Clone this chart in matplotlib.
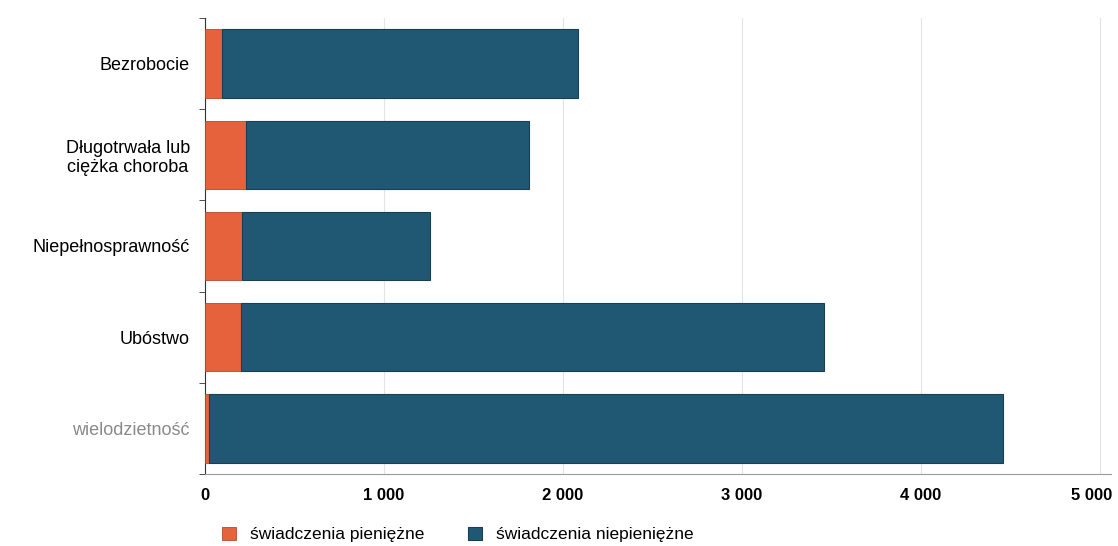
import matplotlib.pyplot as plt
import matplotlib.transforms as mtransforms
import numpy as np

categories = ["Bezrobocie", "Długotrwała lub\nciężka choroba", "Niepełnosprawność", "Ubóstwo", "wielodzietność"]
pieniezne = [95, 230, 207, 200, 20]
razem = [2085, 1810, 1257, 3458, 4458]
niepieniezne = [t - p for t, p in zip(razem, pieniezne)]
xticks = [0, 1000, 2000, 3000, 4000, 5000]
xtick_labels = ["0", "1 000", "2 000", "3 000", "4 000", "5 000"]

plt.rcParams['font.family'] = ['Liberation Sans', 'DejaVu Sans']

fig = plt.figure(figsize=(11.18, 5.46), dpi=100)
ax = fig.add_axes([0.1834, 0.132, 0.8100, 0.835])

y = np.arange(len(categories))
orange = "#e5623d"
blue = "#205874"

ax.barh(y, pieniezne, height=0.75, color=orange, edgecolor="#b24a2c", linewidth=0.6,
        label="świadczenia pieniężne", zorder=3)
ax.barh(y, niepieniezne, left=pieniezne, height=0.75, color=blue, edgecolor="#1b3f52",
        linewidth=0.8, label="świadczenia niepieniężne", zorder=3)

ax.set_ylim(4.5, -0.5)
ax.set_xlim(0, 5060)
ax.set_yticks(y)
ax.set_yticklabels(categories, fontsize=13, ha="right")
for lbl in ax.get_yticklabels():
    lbl.set_multialignment("center")
ax.get_yticklabels()[-1].set_color("#8a8a8a")
ax.tick_params(axis="y", length=0, pad=11)
ax.set_yticks(np.arange(-0.5, 5, 1), minor=True)
ax.tick_params(axis="y", which="minor", length=4, color="#333333")

ax.set_xticks(xticks)
ax.set_xticklabels(xtick_labels, fontsize=12, fontweight="bold")
ax.tick_params(axis="x", length=0, pad=10)
# last label nudged left so it stays inside the figure
last = ax.get_xticklabels()[-1]
last.set_transform(last.get_transform() + mtransforms.ScaledTranslation(-8 / 100, 0, fig.dpi_scale_trans))
ax.grid(axis="x", color="#e4e4e4", linewidth=0.8, zorder=0)

for s in ["top", "right"]:
    ax.spines[s].set_visible(False)
ax.spines["left"].set_color("#333333")
ax.spines["bottom"].set_color("#9a9a9a")

fig.legend(loc="lower left", bbox_to_anchor=(0.185, -0.022), ncol=2, frameon=False,
           fontsize=12.5, handlelength=0.8, handleheight=0.8, handletextpad=0.8,
           columnspacing=2.5)

fig.savefig("out.png", dpi=100)
